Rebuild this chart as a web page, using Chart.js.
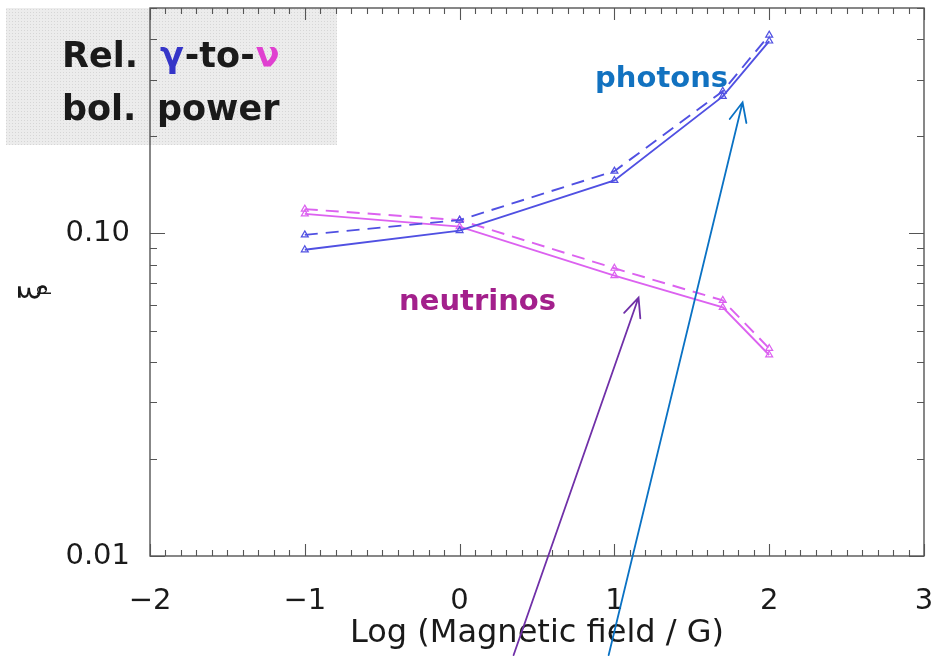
<!DOCTYPE html>
<html>
<head>
<meta charset="utf-8">
<script src="https://cdn.jsdelivr.net/npm/chart.js@4/dist/chart.umd.min.js"></script>
<style>
  html, body { margin: 0; padding: 0; background: #fff; }
  #wrap { width: 935px; height: 656px; }
</style>
</head>
<body>
<div id="wrap"><canvas id="chart" width="935" height="656"></canvas></div>
<script>
// Log (B / G) positions of the model runs
const fieldValues = [-1, 0, 1, 1.7, 2];

// relative bolometric power, xi_P
const photonsSolid = [0.089, 0.102, 0.146, 0.266, 0.395];
const photonsDashed = [0.099, 0.110, 0.156, 0.276, 0.412];
const neutrinosSolid = [0.115, 0.105, 0.074, 0.059, 0.042];
const neutrinosDashed = [0.119, 0.110, 0.078, 0.062, 0.044];

const xTickValues = [-2, -1, 0, 1, 2, 3];
const yTickValues = [0.01, 0.1];

// annotations, in data units: [x, y]
const photonsLabelAt = [1.305, 0.300];
const neutrinosLabelAt = [0.116, 0.0610];
const photonsArrow = { from: [0.963, 0.00493], to: [1.828, 0.255] };
const neutrinosArrow = { from: [0.349, 0.00493], to: [1.156, 0.0633] };

const colors = {
    photons: '#5050e2',
    neutrinos: '#dc62f0',
    axis: '#555555',
    text: '#1a1a1a',
    photonsLabel: '#1272c0',
    neutrinosLabel: '#a3208c',
    photonsArrow: '#0a72c4',
    neutrinosArrow: '#7030a8',
    gamma: '#3535c8',
    nu: '#e040d0'
};

const tickFont = "'DejaVu Sans', sans-serif";
const noteFont = "'DejaVu Sans', sans-serif";

function toPoints(values) {
    return fieldValues.map((x, i) => ({ x: x, y: values[i] }));
}

function series(label, values, color, dashed) {
    return {
        label: label,
        data: toPoints(values),
        borderColor: color,
        borderWidth: 1.9,
        borderDash: dashed ? [13, 8] : [],
        pointStyle: 'triangle',
        pointRadius: 4,
        pointBorderWidth: 1.2,
        pointBorderColor: color,
        pointBackgroundColor: 'rgba(0,0,0,0)',
        tension: 0,
        fill: false
    };
}

function minus(v) {
    return String(v).replace('-', '\u2212');
}

// gray title box under the axes
const backdrop = {
    id: 'backdrop',
    beforeDraw(chart) {
        const ctx = chart.ctx;
        ctx.save();
        ctx.fillStyle = '#ffffff';
        ctx.fillRect(0, 0, chart.width, chart.height);
        const pc = document.createElement('canvas');
        pc.width = 3; pc.height = 3;
        const p = pc.getContext('2d');
        p.fillStyle = '#ececec';
        p.fillRect(0, 0, 3, 3);
        p.fillStyle = '#d6d6d6';
        p.fillRect(0, 0, 1, 1);
        ctx.fillStyle = ctx.createPattern(pc, 'repeat');
        ctx.fillRect(6, 8, 331, 137);
        ctx.restore();
    }
};

// box frame with inward ticks on all four sides
const frame = {
    id: 'frame',
    afterDatasetsDraw(chart) {
        const ctx = chart.ctx;
        const { left, right, top, bottom } = chart.chartArea;
        const xs = chart.scales.x, ys = chart.scales.y;
        ctx.save();
        ctx.strokeStyle = colors.axis;
        ctx.lineWidth = 1.4;
        ctx.strokeRect(left, top, right - left, bottom - top);
        ctx.lineWidth = 1.1;
        ctx.beginPath();
        for (let i = 0; i <= 50; i++) {
            const v = xs.min + i * 0.1;
            const px = Math.round(xs.getPixelForValue(v)) + 0.5;
            const len = i % 10 === 0 ? 12 : 6;
            ctx.moveTo(px, bottom); ctx.lineTo(px, bottom - len);
            ctx.moveTo(px, top); ctx.lineTo(px, top + len);
        }
        yTickValues.forEach(d => {
            for (let m = 1; m <= 9; m++) {
                const v = d * m;
                if (v > ys.max * 1.0001) break;
                const py = Math.round(ys.getPixelForValue(v)) + 0.5;
                const len = m === 1 ? 15 : 7;
                ctx.moveTo(left, py); ctx.lineTo(left + len, py);
                ctx.moveTo(right, py); ctx.lineTo(right - len, py);
            }
        });
        ctx.stroke();
        ctx.restore();
    }
};

function arrow(ctx, chart, a, color) {
    const xs = chart.scales.x, ys = chart.scales.y;
    const x0 = xs.getPixelForValue(a.from[0]), y0 = ys.getPixelForValue(a.from[1]);
    const x1 = xs.getPixelForValue(a.to[0]), y1 = ys.getPixelForValue(a.to[1]);
    const ang = Math.atan2(y1 - y0, x1 - x0);
    const head = 21, spread = 0.42;
    ctx.save();
    ctx.strokeStyle = color;
    ctx.lineWidth = 1.8;
    ctx.lineCap = 'round';
    ctx.beginPath();
    ctx.moveTo(x0, y0); ctx.lineTo(x1, y1);
    ctx.moveTo(x1 - head * Math.cos(ang - spread), y1 - head * Math.sin(ang - spread));
    ctx.lineTo(x1, y1);
    ctx.lineTo(x1 - head * Math.cos(ang + spread), y1 - head * Math.sin(ang + spread));
    ctx.stroke();
    ctx.restore();
}

const notes = {
    id: 'notes',
    afterDraw(chart) {
        const ctx = chart.ctx;
        const xs = chart.scales.x, ys = chart.scales.y;
        const { left, right } = chart.chartArea;
        ctx.save();

        // title box text
        ctx.font = 'bold 35px ' + noteFont;
        ctx.textBaseline = 'alphabetic';
        ctx.textAlign = 'left';
        ctx.fillStyle = colors.text;
        ctx.fillText('Rel.', 62, 67);
        let x = 160;
        const parts = [['\u03b3', colors.gamma], ['-to-', colors.text], ['\u03bd', colors.nu]];
        parts.forEach(([t, c]) => {
            ctx.fillStyle = c;
            ctx.fillText(t, x, 67);
            x += ctx.measureText(t).width + 1;
        });
        ctx.fillStyle = colors.text;
        ctx.fillText('bol.', 62, 120);
        ctx.fillText('power', 157, 120);

        // series labels
        ctx.font = 'bold 29px ' + noteFont;
        ctx.textAlign = 'center';
        ctx.textBaseline = 'middle';
        ctx.fillStyle = colors.photonsLabel;
        ctx.fillText('photons', xs.getPixelForValue(photonsLabelAt[0]), ys.getPixelForValue(photonsLabelAt[1]));
        ctx.fillStyle = colors.neutrinosLabel;
        ctx.fillText('neutrinos', xs.getPixelForValue(neutrinosLabelAt[0]), ys.getPixelForValue(neutrinosLabelAt[1]));

        // axis titles
        ctx.fillStyle = colors.text;
        ctx.font = '32px ' + tickFont;
        ctx.fillText('Log (Magnetic field / G)', (left + right) / 2, 634);
        ctx.translate(33, 292);
        ctx.rotate(-Math.PI / 2);
        ctx.font = '30px ' + tickFont;
        ctx.textAlign = 'center';
        ctx.fillText('\u03be', 0, 0);
        ctx.font = '17px ' + tickFont;
        ctx.fillText('p', 2, 10);
        ctx.restore();

        arrow(ctx, chart, neutrinosArrow, colors.neutrinosArrow);
        arrow(ctx, chart, photonsArrow, colors.photonsArrow);
    }
};

new Chart(document.getElementById('chart').getContext('2d'), {
    type: 'line',
    data: {
        datasets: [
            series('photons', photonsSolid, colors.photons, false),
            series('photons (dashed)', photonsDashed, colors.photons, true),
            series('neutrinos', neutrinosSolid, colors.neutrinos, false),
            series('neutrinos (dashed)', neutrinosDashed, colors.neutrinos, true)
        ]
    },
    options: {
        responsive: false,
        animation: false,
        layout: { padding: { top: 8, right: 11, left: 0, bottom: 0 } },
        plugins: {
            legend: { display: false },
            tooltip: { enabled: false }
        },
        scales: {
            x: {
                type: 'linear',
                min: -2,
                max: 3,
                grid: { display: false },
                border: { display: false },
                afterBuildTicks: s => { s.ticks = xTickValues.map(v => ({ value: v })); },
                afterFit: s => { s.height = 100; s.paddingLeft = 0; s.paddingRight = 0; },
                ticks: {
                    padding: 20,
                    color: colors.text,
                    font: { family: tickFont, size: 29 },
                    maxRotation: 0,
                    callback: v => minus(v)
                }
            },
            y: {
                type: 'logarithmic',
                min: 0.01,
                max: 0.5,
                grid: { display: false },
                border: { display: false },
                afterBuildTicks: s => { s.ticks = yTickValues.map(v => ({ value: v })); },
                afterFit: s => { s.width = 150; s.paddingTop = 0; s.paddingBottom = 0; },
                ticks: {
                    padding: 12,
                    color: colors.text,
                    font: { family: tickFont, size: 29 },
                    callback: v => Number(v).toFixed(2)
                }
            }
        }
    },
    plugins: [backdrop, frame, notes]
});
</script>
</body>
</html>
